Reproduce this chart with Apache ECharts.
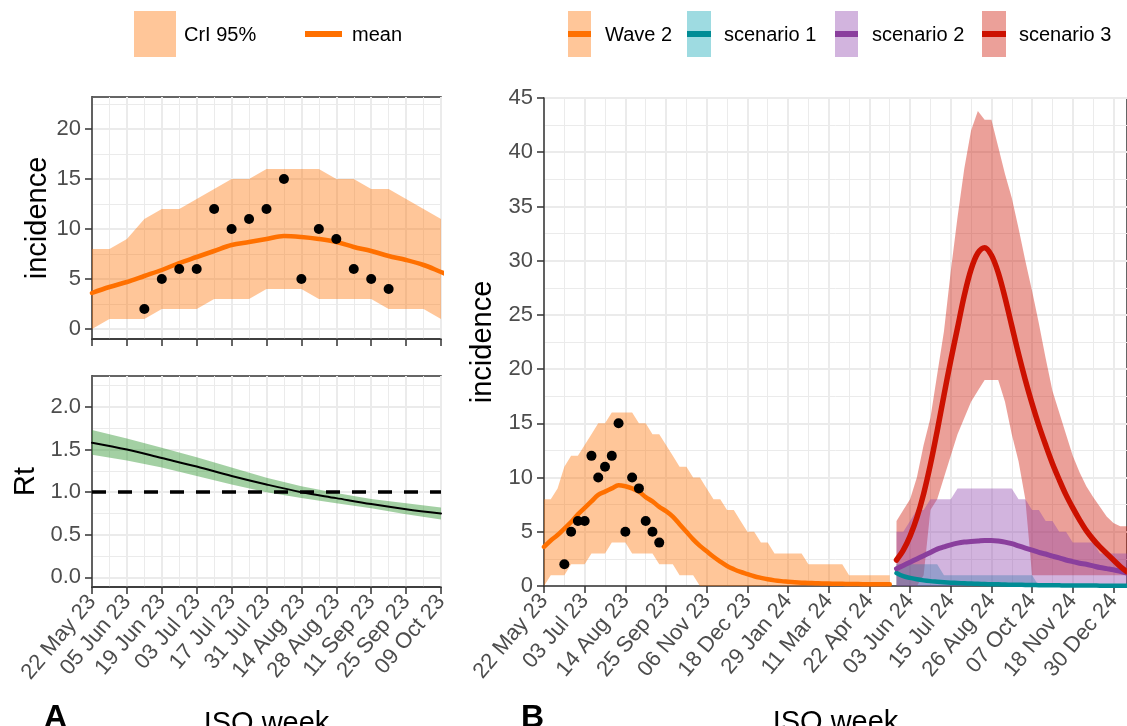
<!DOCTYPE html>
<html>
<head>
<meta charset="utf-8">
<title>Wave 2 incidence, Rt and scenarios</title>
<script src="https://cdn.jsdelivr.net/npm/echarts@6.0.0/dist/echarts.min.js"></script>
<style>
  html, body { margin: 0; padding: 0; background: #fff; }
  #main { width: 1127px; height: 726px; }
</style>
</head>
<body>
<div id="main"></div>
<script>
// ---- data ----
const START_LABEL = '22 May 23';      // first week on both x axes
const SCENARIO_START = '20 May 24';   // first week of the scenario projections

const tickLabelsA = ['22 May 23', '05 Jun 23', '19 Jun 23', '03 Jul 23', '17 Jul 23', '31 Jul 23',
  '14 Aug 23', '28 Aug 23', '11 Sep 23', '25 Sep 23', '09 Oct 23'];
const tickLabelsB = ['22 May 23', '03 Jul 23', '14 Aug 23', '25 Sep 23', '06 Nov 23', '18 Dec 23',
  '29 Jan 24', '11 Mar 24', '22 Apr 24', '03 Jun 24', '15 Jul 24', '26 Aug 24', '07 Oct 24',
  '18 Nov 24', '30 Dec 24'];
const incTicksA = [0, 5, 10, 15, 20];
const incMinorA = [2.5, 7.5, 12.5, 17.5, 22.5];
const rtTicks = [0, 0.5, 1, 1.5, 2];
const rtMinor = [0.25, 0.75, 1.25, 1.75, 2.25];
const incTicksB = [0, 5, 10, 15, 20, 25, 30, 35, 40, 45];

// observed weekly cases
const obsWeeks = ['12 Jun 23', '19 Jun 23', '26 Jun 23', '03 Jul 23', '10 Jul 23', '17 Jul 23', '24 Jul 23',
  '31 Jul 23', '07 Aug 23', '14 Aug 23', '21 Aug 23', '28 Aug 23', '04 Sep 23', '11 Sep 23', '18 Sep 23'];
const obsCases = [2, 5, 6, 6, 12, 10, 11, 12, 15, 5, 10, 9, 6, 5, 4];

// wave 2 fit, weekly from 22 May 23
const waveMean = [3.6, 4.2, 4.7, 5.3, 5.9, 6.6, 7.2, 7.8, 8.4, 8.7, 9.0, 9.3, 9.2, 9.0, 8.7, 8.2, 7.8, 7.3, 6.9, 6.4, 5.7,
  5.0, 4.3, 3.7, 3.2, 2.7, 2.25, 1.85, 1.55, 1.3, 1.1,
  0.9, 0.75, 0.62, 0.52, 0.45, 0.4, 0.35, 0.31, 0.28, 0.26,
  0.24, 0.22, 0.21, 0.2, 0.19, 0.18, 0.17, 0.17, 0.16, 0.16, 0.15];
const waveUpper = [8, 8, 9, 11, 12, 12, 13, 14, 15, 15, 16, 16, 16, 16, 15, 15, 14, 14, 13, 12, 11,
  11, 10, 10, 9, 8, 8, 7, 7, 6, 5,
  5, 4, 4, 3, 3, 3, 3, 3, 2, 2,
  2, 2, 2, 2, 1, 1, 1, 1, 1, 1, 1];
const waveLower = [0, 1, 1, 1, 2, 2, 2, 3, 3, 3, 4, 4, 4, 3, 3, 3, 3, 2, 2, 2, 1,
  1, 1, 0, 0, 0, 0, 0, 0, 0, 0,
  0, 0, 0, 0, 0, 0, 0, 0, 0, 0,
  0, 0, 0, 0, 0, 0, 0, 0, 0, 0, 0];

// reproduction number, every two weeks from 22 May 23
const rtMean = [1.58, 1.50, 1.40, 1.30, 1.19, 1.09, 1.00, 0.93, 0.86, 0.80, 0.75];
const rtUpper = [1.73, 1.63, 1.52, 1.41, 1.29, 1.17, 1.07, 0.99, 0.92, 0.87, 0.82];
const rtLower = [1.44, 1.37, 1.29, 1.19, 1.09, 1.00, 0.93, 0.87, 0.81, 0.74, 0.68];

// scenarios, weekly from 20 May 24
const s1Mean = [1.2, 0.9, 0.75, 0.62, 0.52, 0.45, 0.4, 0.35, 0.31, 0.28,
  0.25, 0.22, 0.2, 0.18, 0.16, 0.15, 0.13, 0.12, 0.11, 0.1,
  0.09, 0.08, 0.07, 0.07, 0.06, 0.05, 0.05, 0.04, 0.04, 0.04,
  0.03, 0.03, 0.03, 0.02, 0.02];
const s1Upper = [2, 2, 2, 2, 2, 2, 2, 1, 1, 1,
  1, 1, 1, 1, 1, 1, 1, 1, 1, 1,
  1, 0, 0, 0, 0, 0, 0, 0, 0, 0,
  0, 0, 0, 0, 0];
const s2Mean = [1.6, 1.9, 2.2, 2.5, 2.8, 3.1, 3.4, 3.6, 3.8, 3.95,
  4.05, 4.1, 4.15, 4.2, 4.2, 4.15, 4.05, 3.9, 3.7, 3.5,
  3.3, 3.1, 2.95, 2.75, 2.6, 2.4, 2.25, 2.1, 2.0, 1.85,
  1.7, 1.6, 1.5, 1.35, 1.2];
const s2Upper = [5, 5, 6, 7, 7, 8, 8, 8, 8, 9,
  9, 9, 9, 9, 9, 9, 9, 9, 8, 8,
  7, 7, 6, 6, 5, 5, 4, 4, 4, 4,
  3, 3, 3, 3, 3];
const s3Mean = [2.4, 3.3, 4.6, 6.3, 8.5, 11.2, 14.3, 17.6, 20.8, 23.8,
  26.8, 29.2, 30.7, 31.2, 30.5, 28.9, 26.6, 24.0, 21.4, 19.0,
  16.8, 14.8, 13.0, 11.3, 9.8, 8.4, 7.2, 6.1, 5.1, 4.3,
  3.6, 3.0, 2.4, 1.8, 1.3];
const s3Upper = [6, 7, 8, 10, 13, 15.5, 19.5, 23.5, 29, 34,
  38.5, 42, 43.8, 43, 43, 40.5, 38, 35.8, 33, 30,
  27.2, 24.2, 21, 18, 16, 14, 12, 10.5, 9.2, 8.2,
  7.3, 6.4, 5.8, 5.5, 5.5];
const s3Lower = [0, 0, 0, 0, 1, 7, 8, 10, 12, 14,
  15.5, 17, 18, 19, 19, 19, 17, 14, 11.5, 8,
  1, 1, 1, 1, 1, 1, 1, 1, 1, 1,
  1, 1, 1, 1, 1];

// ---- helpers ----
const MONTHS = ['Jan', 'Feb', 'Mar', 'Apr', 'May', 'Jun', 'Jul', 'Aug', 'Sep', 'Oct', 'Nov', 'Dec'];
const WEEK_MS = 7 * 24 * 3600 * 1000;
function labelTime(lbl) {
  const p = lbl.split(' ');
  return Date.UTC(2000 + Number(p[2]), MONTHS.indexOf(p[1]), Number(p[0]));
}
function weekOf(lbl) {
  return Math.round((labelTime(lbl) - labelTime(START_LABEL)) / WEEK_MS);
}
function weekly(startLbl, values) {
  const w0 = weekOf(startLbl);
  return values.map((v, i) => [w0 + i, v]);
}
function byLabel(labels, values) {
  return labels.map((l, i) => [weekOf(l), values[i]]);
}
const tickWeeksA = tickLabelsA.map(weekOf);
const tickWeeksB = tickLabelsB.map(weekOf);
const tickText = {};
tickLabelsB.concat(tickLabelsA).forEach(l => { tickText[weekOf(l)] = l; });

const FONT = '"Liberation Sans", Arial, sans-serif';
const INK = '#333333';
const LABEL = '#4d4d4d';
const MAJOR = { color: '#ebebeb', width: 2 };
const MINOR = { color: '#ebebeb', width: 1 };

const ORANGE = '#ff7000', ORANGE_FILL = 'rgba(255,112,0,0.4)';
const TEAL = '#008c95', TEAL_FILL = 'rgba(0,160,176,0.38)';
const PURPLE = '#8a3f9d', PURPLE_FILL = 'rgba(142,68,173,0.4)';
const RED = '#cc1100', RED_FILL = 'rgba(204,17,0,0.4)';
const GREEN_FILL = 'rgba(50,150,50,0.45)';

function xAxisCfg(grid, max, interval, ticks, showLabels, name) {
  return {
    type: 'value', gridIndex: grid, min: 0, max: max, interval: interval,
    axisLine: { show: true, onZero: false, lineStyle: { color: INK, width: 1.5 } },
    axisTick: { show: true, customValues: ticks, length: 7, lineStyle: { color: INK, width: 1.5 } },
    axisLabel: {
      show: showLabels, customValues: ticks, rotate: 50, margin: 11,
      color: LABEL, fontSize: 22, fontFamily: FONT,
      formatter: v => tickText[v] || ''
    },
    splitLine: { show: true, lineStyle: MAJOR },
    minorTick: { show: false, splitNumber: 2 },
    minorSplitLine: { show: true, lineStyle: MINOR },
    name: name || '', nameLocation: 'middle', nameGap: 122,
    nameTextStyle: { color: '#000', fontSize: 29, fontFamily: FONT }
  };
}
function yAxisCfg(grid, min, max, ticks, fmt, name, gap) {
  return {
    type: 'value', gridIndex: grid, min: min, max: max,
    axisLine: { show: true, onZero: false, lineStyle: { color: INK, width: 1.5 } },
    axisTick: { show: true, customValues: ticks, length: 7, lineStyle: { color: INK, width: 1.5 } },
    axisLabel: { customValues: ticks, margin: 11, color: LABEL, fontSize: 22, fontFamily: FONT, formatter: fmt },
    splitLine: { show: true, lineStyle: MAJOR },
    name: name, nameLocation: 'middle', nameRotate: 90, nameGap: gap,
    nameTextStyle: { color: '#000', fontSize: 29, fontFamily: FONT }
  };
}
function minorYAxis(grid, min, max, ticks) {
  return {
    type: 'value', gridIndex: grid, min: min, max: max, position: 'left',
    axisLine: { show: false }, axisLabel: { show: false },
    axisTick: { show: false, customValues: ticks },
    splitLine: { show: true, lineStyle: MINOR }
  };
}
// credible band drawn as one polygon through the axis scales
function band(lowerPts, upperPts, fill, xi, yi) {
  return {
    type: 'custom', xAxisIndex: xi, yAxisIndex: yi, silent: true,
    data: [upperPts[0]],
    renderItem: (params, api) => {
      const cs = params.coordSys;
      const clampPt = p => [Math.min(Math.max(p[0], cs.x), cs.x + cs.width),
                            Math.min(Math.max(p[1], cs.y), cs.y + cs.height)];
      const pts = upperPts.map(p => api.coord(p))
        .concat(lowerPts.slice().reverse().map(p => api.coord(p)))
        .map(clampPt);
      return { type: 'polygon', shape: { points: pts }, style: { fill: fill } };
    }
  };
}
function area(pts, fill, xi, yi) {
  return { type: 'line', xAxisIndex: xi, yAxisIndex: yi, data: pts, symbol: 'none',
    lineStyle: { width: 0, opacity: 0 }, areaStyle: { color: fill, opacity: 1 }, silent: true };
}
function meanLine(pts, color, width, xi, yi) {
  return { type: 'line', xAxisIndex: xi, yAxisIndex: yi, data: pts, symbol: 'none', smooth: 0.35,
    lineStyle: { color: color, width: width, cap: 'round', join: 'round' }, silent: true };
}
function points(xi, yi) {
  return { type: 'scatter', xAxisIndex: xi, yAxisIndex: yi, data: byLabel(obsWeeks, obsCases),
    symbolSize: 10, itemStyle: { color: '#000', opacity: 1 }, z: 5, silent: true };
}

const series = [
  // panel A, incidence
  band(weekly(START_LABEL, waveLower), weekly(START_LABEL, waveUpper), ORANGE_FILL, 0, 0),
  meanLine(weekly(START_LABEL, waveMean), ORANGE, 4.5, 0, 0),
  points(0, 0),
  // panel A, Rt
  band(byLabel(tickLabelsA, rtLower), byLabel(tickLabelsA, rtUpper), GREEN_FILL, 1, 2),
  Object.assign(meanLine(byLabel(tickLabelsA, rtMean), '#000', 2, 1, 2), {
    markLine: {
      silent: true, symbol: ['none', 'none'], label: { show: false },
      lineStyle: { color: '#000', width: 3.5, type: [14, 12] },
      data: [{ yAxis: 1 }]
    }
  }),
  // panel B
  band(weekly(START_LABEL, waveLower), weekly(START_LABEL, waveUpper), ORANGE_FILL, 2, 4),
  meanLine(weekly(START_LABEL, waveMean), ORANGE, 4.5, 2, 4),
  area(weekly(SCENARIO_START, s1Upper), TEAL_FILL, 2, 4),
  meanLine(weekly(SCENARIO_START, s1Mean), TEAL, 4.5, 2, 4),
  area(weekly(SCENARIO_START, s2Upper), PURPLE_FILL, 2, 4),
  meanLine(weekly(SCENARIO_START, s2Mean), PURPLE, 5, 2, 4),
  band(weekly(SCENARIO_START, s3Lower), weekly(SCENARIO_START, s3Upper), RED_FILL, 2, 4),
  meanLine(weekly(SCENARIO_START, s3Mean), RED, 5.5, 2, 4),
  points(2, 4)
];

function legendText(x, t) {
  return { type: 'text', style: { x: x, y: 35, text: t, fill: '#000', font: '20px ' + FONT, verticalAlign: 'middle' } };
}
function legendKey(x, w, fill, stroke) {
  return [
    { type: 'rect', shape: { x: x, y: 11, width: w, height: 46 }, style: { fill: fill } },
    { type: 'line', shape: { x1: x, y1: 34, x2: x + w, y2: 34 }, style: { stroke: stroke, lineWidth: 6 } }
  ];
}

const chart = echarts.init(document.getElementById('main'), null, { renderer: 'canvas' });
chart.setOption({
  animation: false,
  backgroundColor: '#fff',
  textStyle: { fontFamily: FONT },
  grid: [
    { left: 92, top: 97, width: 349, height: 242, show: true, borderColor: INK, borderWidth: 1.5, containLabel: false, outerBoundsMode: 'none' },
    { left: 92, top: 376, width: 349, height: 211, show: true, borderColor: INK, borderWidth: 1.5, containLabel: false, outerBoundsMode: 'none' },
    { left: 544, top: 98, width: 583, height: 488, show: true, borderColor: INK, borderWidth: 1.5, containLabel: false, outerBoundsMode: 'none' }
  ],
  xAxis: [
    xAxisCfg(0, 20, 2, tickWeeksA, false),
    xAxisCfg(1, 20, 2, tickWeeksA, true, 'ISO week'),
    xAxisCfg(2, 86, 6, tickWeeksB, true, 'ISO week')
  ],
  yAxis: [
    yAxisCfg(0, -1, 23.2, incTicksA, v => String(v), 'incidence', 40),
    minorYAxis(0, -1, 23.2, incMinorA),
    yAxisCfg(1, -0.1125, 2.3625, rtTicks, v => v.toFixed(1), 'Rt', 52),
    minorYAxis(1, -0.1125, 2.3625, rtMinor),
    Object.assign(yAxisCfg(2, 0, 45, incTicksB, v => String(v), 'incidence', 45), {
      interval: 5, minorTick: { show: false, splitNumber: 2 }, minorSplitLine: { show: true, lineStyle: MINOR }
    })
  ],
  series: series,
  graphic: [].concat(
    [{ type: 'rect', shape: { x: 134, y: 11, width: 42, height: 46 }, style: { fill: ORANGE_FILL } },
     legendText(184, 'CrI 95%'),
     { type: 'line', shape: { x1: 305, y1: 34, x2: 342, y2: 34 }, style: { stroke: ORANGE, lineWidth: 6 } },
     legendText(352, 'mean')],
    legendKey(568, 23, ORANGE_FILL, ORANGE), [legendText(605, 'Wave 2')],
    legendKey(687, 24, TEAL_FILL, TEAL), [legendText(724, 'scenario 1')],
    legendKey(835, 23, PURPLE_FILL, PURPLE), [legendText(872, 'scenario 2')],
    legendKey(982, 24, RED_FILL, RED), [legendText(1019, 'scenario 3')],
    [{ type: 'text', style: { x: 44, y: 718, text: 'A', fill: '#000', font: 'bold 32px ' + FONT, verticalAlign: 'middle' } },
     { type: 'text', style: { x: 521, y: 718, text: 'B', fill: '#000', font: 'bold 32px ' + FONT, verticalAlign: 'middle' } }]
  )
});
</script>
</body>
</html>
